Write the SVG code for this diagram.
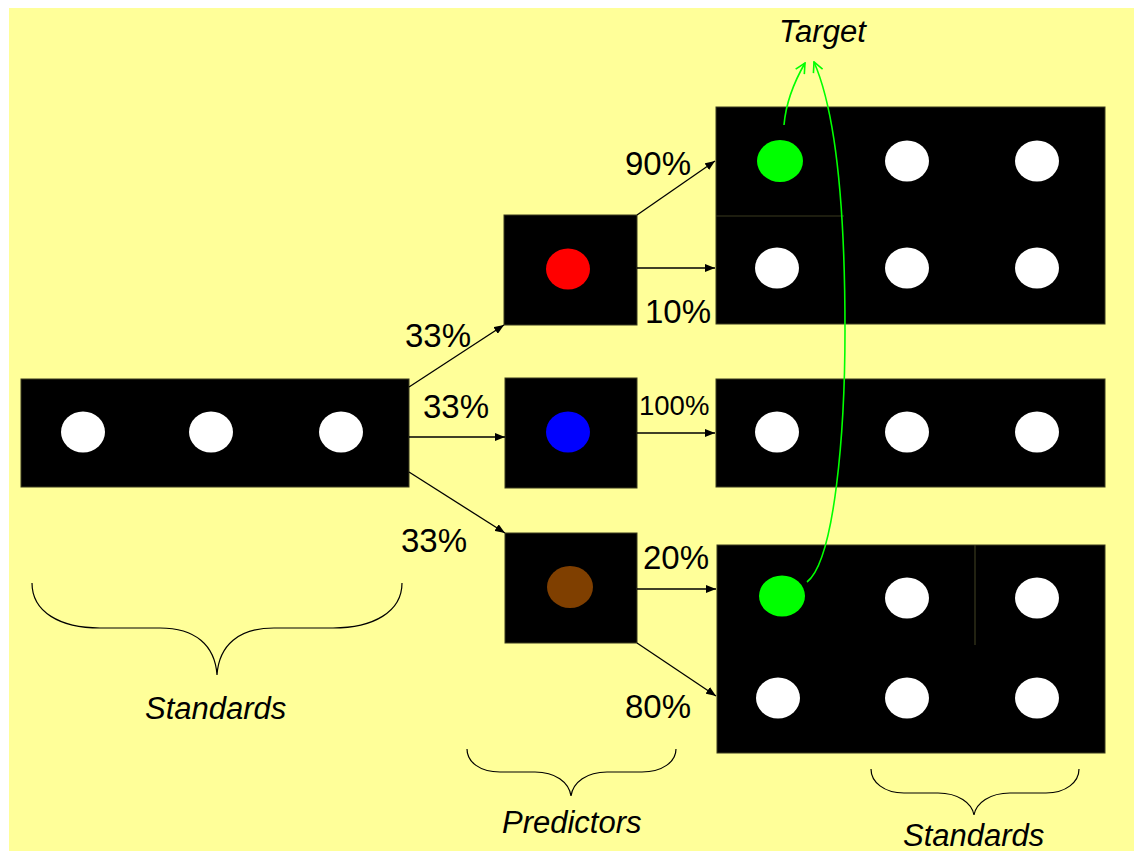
<svg xmlns="http://www.w3.org/2000/svg" width="1134" height="851" viewBox="0 0 1134 851">
<defs>
<style>
.box{fill:#000;stroke:#3a3a1e;stroke-width:1}
.w{fill:#fff}
.seam{stroke:#3a3a1e;stroke-width:1.2}
.lbl{font-family:"Liberation Sans",Arial,sans-serif;fill:#000}
.pct{font-size:33px}
.it{font-style:italic;font-size:31px}
.conn{stroke:#000;stroke-width:1.3;fill:none;marker-end:url(#ah)}
.gconn{stroke:#00ff00;stroke-width:1.6;fill:none;marker-end:url(#gh)}
.brace{stroke:#000;stroke-width:1.2;fill:none}
</style>
<marker id="ah" viewBox="0 0 10 8" refX="10" refY="4" markerWidth="10" markerHeight="8" markerUnits="userSpaceOnUse" orient="auto">
<path d="M0,0 L10,4 L0,8 Z" fill="#000"/>
</marker>
<marker id="gh" viewBox="0 0 12 12" refX="11" refY="6" markerWidth="12" markerHeight="12" markerUnits="userSpaceOnUse" orient="auto">
<path d="M1,1 L11,6 L1,11" fill="none" stroke="#00ff00" stroke-width="1.6"/>
</marker>
</defs>
<rect x="9" y="8" width="1125" height="843" fill="#ffff99"/>

<g id="standards-left">
<rect class="box" x="21" y="379" width="388" height="108"/>
<ellipse class="w" cx="83" cy="432" rx="22" ry="20.5"/>
<ellipse class="w" cx="211" cy="432" rx="22" ry="20.5"/>
<ellipse class="w" cx="341" cy="432" rx="22" ry="20.5"/>
</g>

<g id="predictor-red">
<rect class="box" x="504" y="215" width="133" height="110"/>
<ellipse cx="568" cy="269" rx="22" ry="20.5" fill="#ff0000"/>
</g>
<g id="predictor-blue">
<rect class="box" x="505" y="378" width="132" height="110"/>
<ellipse cx="568" cy="432" rx="22" ry="20.5" fill="#0000ff"/>
</g>
<g id="predictor-brown">
<rect class="box" x="505" y="533" width="132" height="110"/>
<ellipse cx="570" cy="587" rx="23" ry="21" fill="#7f3f00"/>
</g>

<g id="standards-top">
<rect class="box" x="716" y="107" width="389" height="217"/>
<line class="seam" x1="716" y1="216" x2="844" y2="216"/>
<ellipse cx="780" cy="161" rx="23" ry="21" fill="#00ff00"/>
<ellipse class="w" cx="907" cy="161" rx="22" ry="20.5"/>
<ellipse class="w" cx="1037" cy="161" rx="22" ry="20.5"/>
<ellipse class="w" cx="777" cy="268" rx="22" ry="20.5"/>
<ellipse class="w" cx="907" cy="268" rx="22" ry="20.5"/>
<ellipse class="w" cx="1037" cy="268" rx="22" ry="20.5"/>
</g>

<g id="standards-middle">
<rect class="box" x="716" y="379" width="389" height="108"/>
<ellipse class="w" cx="777" cy="432" rx="22" ry="20.5"/>
<ellipse class="w" cx="907" cy="432" rx="22" ry="20.5"/>
<ellipse class="w" cx="1037" cy="432" rx="22" ry="20.5"/>
</g>

<g id="standards-bottom">
<rect class="box" x="717" y="545" width="388" height="208"/>
<line class="seam" x1="975" y1="545" x2="975" y2="645"/>
<ellipse cx="782" cy="596" rx="23" ry="20.5" fill="#00ff00"/>
<ellipse class="w" cx="907" cy="598" rx="22" ry="20.5"/>
<ellipse class="w" cx="1037" cy="598" rx="22" ry="20.5"/>
<ellipse class="w" cx="778" cy="698" rx="22" ry="20.5"/>
<ellipse class="w" cx="907" cy="698" rx="22" ry="20.5"/>
<ellipse class="w" cx="1037" cy="698" rx="22" ry="20.5"/>
</g>

<g id="connectors">
<line class="conn" x1="409" y1="387" x2="504" y2="325"/>
<line class="conn" x1="409" y1="437" x2="505" y2="437"/>
<line class="conn" x1="409" y1="472" x2="505" y2="533"/>
<line class="conn" x1="637" y1="215" x2="715" y2="161"/>
<line class="conn" x1="637" y1="268" x2="715" y2="268"/>
<line class="conn" x1="637" y1="433" x2="715" y2="433"/>
<line class="conn" x1="637" y1="589" x2="716" y2="589"/>
<line class="conn" x1="637" y1="643" x2="716" y2="696"/>
<path class="gconn" d="M784,125 C786,102 794,82 805,63"/>
<path class="gconn" d="M807,582 C835,560 845,430 845,330 C845,200 835,110 814,62"/>
</g>

<g id="braces">
<path class="brace" d="M32,583 C32,612 60,628 100,628 L160,628 C195,628 215,645 217,675 C219,645 239,628 274,628 L333,628 C373,628 402,612 402,583"/>
<path class="brace" d="M467,749 C467,762 480,772 500,772 L535,772 C555,772 569,782 571,796 C573,782 587,772 607,772 L642,772 C662,772 676,762 676,749"/>
<path class="brace" d="M871,769 C871,782 884,793 904,793 L938,793 C958,793 972,803 974,815 C976,803 990,793 1010,793 L1046,793 C1066,793 1079,782 1079,769"/>
</g>

<g id="labels" class="lbl">
<text class="pct" x="625" y="175">90%</text>
<text class="pct" x="645" y="323">10%</text>
<text class="pct" x="405" y="347">33%</text>
<text class="pct" x="423" y="418">33%</text>
<text class="pct" x="401" y="552">33%</text>
<text x="639" y="415" font-size="27.5">100%</text>
<text class="pct" x="643" y="569">20%</text>
<text class="pct" x="625" y="718">80%</text>
<text class="it" x="779" y="42" font-size="29">Target</text>
<text class="it" x="145" y="719">Standards</text>
<text class="it" x="502" y="833">Predictors</text>
<text class="it" x="903" y="846">Standards</text>
</g>
</svg>
